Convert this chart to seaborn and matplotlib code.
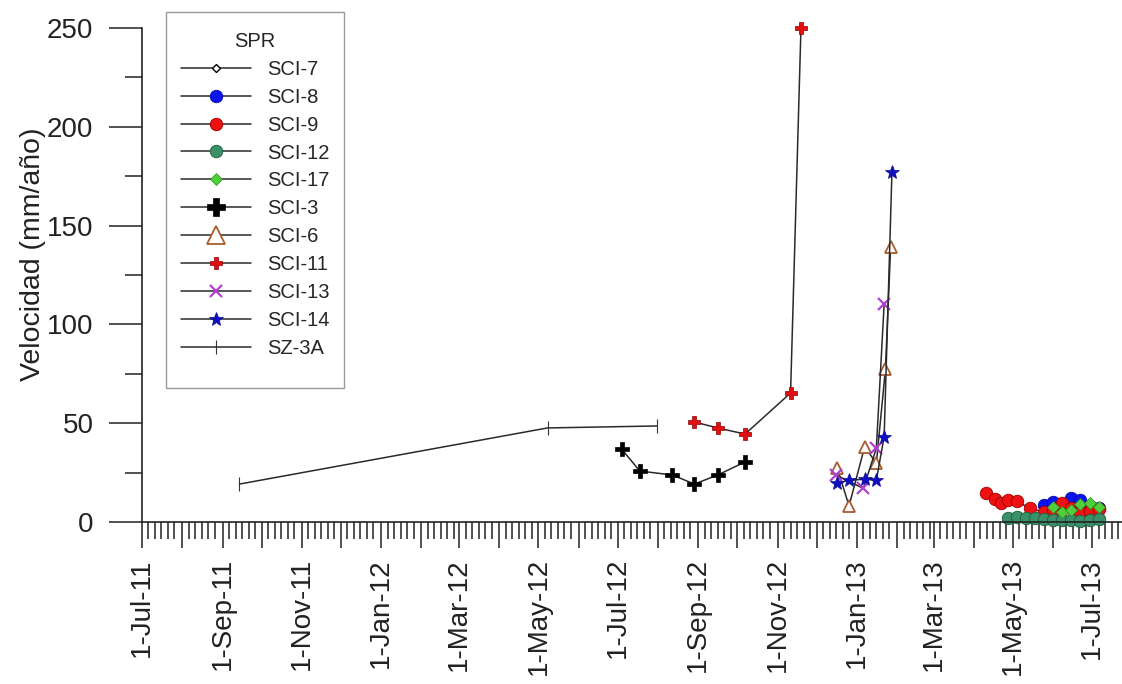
import pandas as pd
import numpy as np
import seaborn as sns
import matplotlib.pyplot as plt
import matplotlib.dates as mdates
import matplotlib.patches as mpatches
from matplotlib.ticker import MultipleLocator, FuncFormatter

# -----------------------------
# Data
# -----------------------------
sci7_dates = ['2013-06-15', '2013-06-22', '2013-06-29']
sci7_vals = [5.5, 8.0, 5.0]

sci8_dates = ['2013-05-25', '2013-06-01', '2013-06-08', '2013-06-15', '2013-06-22', '2013-06-29', '2013-07-06']
sci8_vals = [8.6, 10.3, 9.0, 12.0, 11.1, 8.0, 7.0]

sci9_dates = ['2013-04-10', '2013-04-17', '2013-04-22', '2013-04-27', '2013-05-04', '2013-05-14',
              '2013-05-25', '2013-06-01', '2013-06-08', '2013-06-15', '2013-06-22', '2013-06-29', '2013-07-06']
sci9_vals = [14.5, 11.6, 9.4, 11.1, 10.6, 6.9, 5.0, 6.0, 9.4, 7.0, 5.0, 5.5, 6.5]

sci12_dates = ['2013-04-27', '2013-05-04', '2013-05-11', '2013-05-18', '2013-05-25', '2013-06-01',
               '2013-06-08', '2013-06-15', '2013-06-22', '2013-06-29', '2013-07-06']
sci12_vals = [2.0, 2.7, 2.2, 2.2, 1.5, 1.2, 1.0, 1.0, 0.3, 1.0, 1.5]

sci17_dates = ['2013-06-01', '2013-06-08', '2013-06-15', '2013-06-22', '2013-06-29', '2013-07-06']
sci17_vals = [7.4, 5.2, 6.1, 9.1, 9.4, 7.4]

sci3_dates = ['2012-07-04', '2012-07-18', '2012-08-12', '2012-08-29', '2012-09-16', '2012-10-07']
sci3_vals = [36.9, 25.8, 23.8, 19.2, 23.8, 30.4]

sci6_dates = ['2012-12-17', '2012-12-26', '2013-01-07', '2013-01-16', '2013-01-23', '2013-01-27']
sci6_vals = [27.2, 8.1, 38.1, 29.7, 77.4, 139.3]

sci11_dates = ['2012-08-29', '2012-09-16', '2012-10-07', '2012-11-11', '2012-11-19']
sci11_vals = [50.6, 47.6, 44.5, 65.3, 250.0]

sci13_dates = ['2012-12-16', '2013-01-06', '2013-01-16', '2013-01-22']
sci13_vals = [23.8, 17.0, 37.3, 110.3]

sci14_dates = ['2012-12-17', '2012-12-26', '2013-01-07', '2013-01-16', '2013-01-22', '2013-01-28']
sci14_vals = [19.6, 21.2, 21.6, 21.2, 43.2, 177.3]

sz3a_dates = ['2011-09-14', '2012-05-08', '2012-07-31']
sz3a_vals = [19.2, 47.6, 48.6]

# -----------------------------
# Series styles
# -----------------------------
series = [
    ('SCI-7', sci7_dates, sci7_vals, dict(marker='D', ms=4.5, mfc='white', mec='black', mew=1.0)),
    ('SCI-8', sci8_dates, sci8_vals, dict(marker='o', ms=9, mfc='#0a14f0', mec='#0a0aa0', mew=0.6)),
    ('SCI-9', sci9_dates, sci9_vals, dict(marker='o', ms=9, mfc='#ee1111', mec='#a00000', mew=0.6)),
    ('SCI-12', sci12_dates, sci12_vals, dict(marker='o', ms=9, mfc='#3a9168', mec='#1f5a3c', mew=0.6)),
    ('SCI-17', sci17_dates, sci17_vals, dict(marker='D', ms=6.5, mfc='#4fcf3a', mec='#2c8a20', mew=0.5)),
    ('SCI-3', sci3_dates, sci3_vals, dict(marker='P', ms=9.5, mfc='black', mec='black', mew=0.5)),
    ('SCI-6', sci6_dates, sci6_vals, dict(marker='^', ms=8.5, mfc='white', mec='#a85c30', mew=1.3)),
    ('SCI-11', sci11_dates, sci11_vals, dict(marker='P', ms=8.5, mfc='#e01010', mec='#900000', mew=0.5)),
    ('SCI-13', sci13_dates, sci13_vals, dict(marker='x', ms=9, mfc='#b040d0', mec='#b040d0', mew=1.6)),
    ('SCI-14', sci14_dates, sci14_vals, dict(marker='*', ms=10, mfc='#1010c0', mec='#0a0a90', mew=0.5)),
    ('SZ-3A', sz3a_dates, sz3a_vals, dict(marker='|', ms=10, mfc='#333333', mec='#333333', mew=0.8)),
]

sns.set_style('ticks')
plt.rcParams['font.family'] = ['Liberation Sans', 'DejaVu Sans']

fig = plt.figure(figsize=(11.22, 6.84), dpi=100)
ax = fig.add_axes([142 / 1122, 1 - 522 / 684, 1 - 142 / 1122, 494 / 684])

for name, dts, vals, st in series:
    sns.lineplot(x=pd.to_datetime(dts), y=vals, ax=ax, color='#2a2a2a', linewidth=1.1,
                 label=name, estimator=None, sort=False,
                 marker=st['marker'], markersize=st['ms'], markerfacecolor=st['mfc'],
                 markeredgecolor=st['mec'], markeredgewidth=st['mew'], clip_on=False)

# -----------------------------
# Axes formatting
# -----------------------------
ax.set_xlim(pd.Timestamp('2011-07-01'), pd.Timestamp('2013-07-24'))
ax.set_ylim(0, 250)
sns.despine(ax=ax)
for sp in ['left', 'bottom']:
    ax.spines[sp].set_linewidth(1.2)
    ax.spines[sp].set_color('#222222')

ax.xaxis.set_major_locator(mdates.MonthLocator())
ax.xaxis.set_minor_locator(mdates.DayLocator(bymonthday=[6, 11, 16, 21, 26]))
ax.xaxis.set_major_formatter(FuncFormatter(
    lambda v, p: mdates.num2date(v).strftime('1-%b-%y') if mdates.num2date(v).month % 2 == 1 else ''))
ax.yaxis.set_major_locator(MultipleLocator(50))
ax.yaxis.set_minor_locator(MultipleLocator(25))

ax.tick_params(axis='x', which='major', direction='out', length=19, width=1.1, pad=7,
               labelsize=20, labelrotation=90, colors='#222222')
ax.tick_params(axis='x', which='minor', direction='out', length=12, width=1.1, colors='#222222')
ax.tick_params(axis='y', which='major', direction='out', length=24, width=1.1, pad=11,
               labelsize=20, colors='#222222')
ax.tick_params(axis='y', which='minor', direction='out', length=12, width=1.1, colors='#222222')
for lab in ax.get_xticklabels():
    lab.set_va('top')

ax.set_xlabel('')
ax.set_ylabel('Velocidad (mm/año)', fontsize=20.5, color='#222222')
ax.yaxis.set_label_coords(-0.098, 0.5425)

# -----------------------------
# Legend (outline drawn separately to match the box size)
# -----------------------------
leg = ax.legend(title='SPR', loc='upper left', bbox_to_anchor=(166 / 1122, 1 - 17 / 684),
                bbox_transform=fig.transFigure, borderaxespad=0, fontsize=14.5, title_fontsize=14.5,
                handlelength=3.45, labelspacing=0.44, frameon=False,
                borderpad=0.75, handletextpad=0.8)
for h in leg.legend_handles:
    if h.get_label() in ('SCI-3', 'SCI-6'):
        h.set_markersize(13)

fig.patches.append(mpatches.Rectangle((166 / 1122, 1 - 388 / 684), 178 / 1122, 376 / 684,
                                      transform=fig.transFigure, fill=False,
                                      edgecolor='#999999', linewidth=1.0, zorder=5))

plt.savefig('out.png', dpi=100)
